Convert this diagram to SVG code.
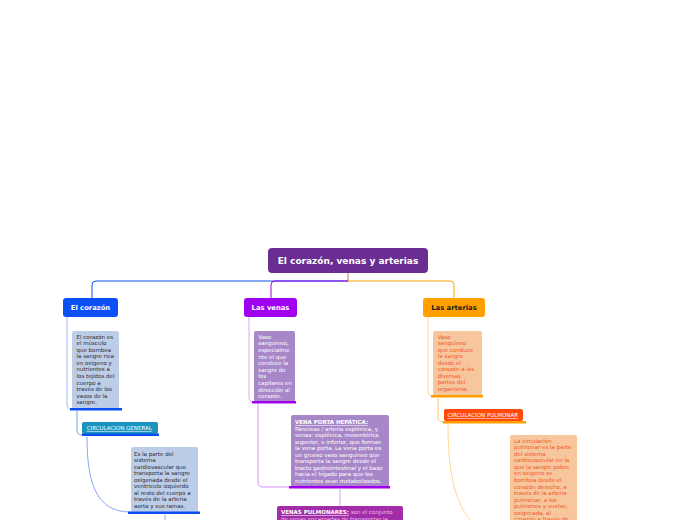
<svg xmlns="http://www.w3.org/2000/svg" width="696" height="520" viewBox="0 0 696 520">
<style>
text{font-family:"DejaVu Sans",Verdana,sans-serif}
.hd{font-size:6.8px;font-weight:bold;text-anchor:middle}
.sm{font-size:5.5px}
.w{fill:#ffffff}
.dk{fill:#2b2b35}
.or{fill:#f0582a}
.pk{fill:#f3bde8}
.u{text-decoration:underline}
.c{fill:none;stroke-width:1}
</style>
<rect width="696" height="520" fill="#ffffff"/>
<g id="connectors">
<path class="c" d="M348,273 V281" stroke="#d4705e"/>
<path class="c" d="M348,281 H96 Q92,281 92,285 V298" stroke="#0b50f5"/>
<path class="c" d="M348,281 H275 Q271,281 271,285 V298" stroke="#a100f0"/>
<path class="c" d="M348,281 H450 Q454,281 454,285 V298" stroke="#ffa000"/>
<path class="c" d="M67,317 V404 Q67,409 72,409" stroke="#a8b6f2"/>
<path class="c" d="M77,411 V430 Q77,435 82,435" stroke="#7e9af2"/>
<path class="c" d="M87,437 C87,480 95,512 130,512" stroke="#8aa6f5"/>
<path class="c" d="M165,515 V520" stroke="#8aa6f5"/>
<path class="c" d="M249,317 V397 Q249,402 254,402" stroke="#d9a8f5"/>
<path class="c" d="M258,403 V482 Q258,487 263,487 H290" stroke="#d494f8"/>
<path class="c" d="M340,489 V506" stroke="#d9a0f0"/>
<path class="c" d="M428,317 V391 Q428,396 433,396" stroke="#ffd394"/>
<path class="c" d="M438,398 V417 Q438,422 443,422" stroke="#ffc56a"/>
<path class="c" d="M448,424 C448,500 465,532 510,542" stroke="#ffd394"/>
</g>
<g id="root">
<rect x="268" y="248" width="160" height="25" rx="4" fill="#6a2d91"/>
<text x="348" y="264" font-size="9px" font-weight="bold" text-anchor="middle" class="w">El corazón, venas y arterias</text>
</g>
<g id="corazon">
<rect x="63" y="298" width="55" height="19" rx="3" fill="#0b50f5"/>
<text x="90.5" y="310" class="hd w">El corazón</text>
</g>
<g id="venas">
<rect x="244" y="298" width="53" height="19" rx="3" fill="#9f00f0"/>
<text x="270.5" y="310" class="hd w">Las venas</text>
</g>
<g id="arterias">
<rect x="423" y="298" width="62" height="19" rx="3" fill="#ffa000"/>
<text x="454" y="310" class="hd" fill="#1a1a1a">Las arterias</text>
</g>
<g id="corazon-def">
<rect x="72" y="331" width="47" height="78" rx="2" fill="#bccde8"/>
<rect x="70" y="408" width="52" height="2.5" fill="#0b50f5"/>
<text class="sm dk" x="76.5" y="338.7">
<tspan x="76.5">El corazón es</tspan><tspan x="76.5" dy="6.55">el músculo</tspan><tspan x="76.5" dy="6.55">que bombea</tspan><tspan x="76.5" dy="6.55">la sangre rica</tspan><tspan x="76.5" dy="6.55">en oxígeno y</tspan><tspan x="76.5" dy="6.55">nutrientes a</tspan><tspan x="76.5" dy="6.55">los tejidos del</tspan><tspan x="76.5" dy="6.55">cuerpo a</tspan><tspan x="76.5" dy="6.55">través de los</tspan><tspan x="76.5" dy="6.55">vasos de la</tspan><tspan x="76.5" dy="6.55">sangre.</tspan>
</text>
</g>
<g id="circ-general">
<rect x="82" y="422" width="76" height="12" rx="2" fill="#1a93bd"/>
<rect x="82" y="433.5" width="77" height="2.5" fill="#0b50f5"/>
<text class="sm w u" x="86.7" y="430">CIRCULACIÓN GENERAL</text>
</g>
<g id="general-def">
<rect x="131" y="447" width="67" height="66" rx="2" fill="#bccde8"/>
<rect x="128" y="511.5" width="72" height="2.5" fill="#0b50f5"/>
<text class="sm dk" x="134" y="456">
<tspan x="134">Es la parte del</tspan><tspan x="134" dy="6.46">sistema</tspan><tspan x="134" dy="6.46">cardiovascular que</tspan><tspan x="134" dy="6.46">transporta la sangre</tspan><tspan x="134" dy="6.46">oxigenada desde el</tspan><tspan x="134" dy="6.46">ventrículo izquierdo</tspan><tspan x="134" dy="6.46">al resto del cuerpo a</tspan><tspan x="134" dy="6.46">través de la arteria</tspan><tspan x="134" dy="6.46">aorta y sus ramas.</tspan>
</text>
</g>
<g id="venas-def">
<rect x="254" y="331" width="41" height="71" rx="2" fill="#a887c8"/>
<rect x="252" y="401" width="44" height="2.5" fill="#a100f0"/>
<text class="sm w" x="258.3" y="338.7">
<tspan x="258.3">Vaso</tspan><tspan x="258.3" dy="6.6">sanguíneo,</tspan><tspan x="258.3" dy="6.6">especialme</tspan><tspan x="258.3" dy="6.6">nte el que</tspan><tspan x="258.3" dy="6.6">conduce la</tspan><tspan x="258.3" dy="6.6">sangre de</tspan><tspan x="258.3" dy="6.6">los</tspan><tspan x="258.3" dy="6.6">capilares en</tspan><tspan x="258.3" dy="6.6">dirección al</tspan><tspan x="258.3" dy="6.6">corazón.</tspan>
</text>
</g>
<g id="vena-porta">
<rect x="291" y="415" width="98" height="72" rx="2" fill="#a887c8"/>
<rect x="289" y="486" width="101" height="2.5" fill="#a100f0"/>
<text class="sm w" x="295" y="424">
<tspan x="295" font-weight="bold" class="u">VENA PORTA HEPÁTICA:</tspan><tspan x="295" dy="6.5">Páncreas / arteria esplénica, y</tspan><tspan x="295" dy="6.5">venas: esplénica, mesentérica</tspan><tspan x="295" dy="6.5">superior, e inferior, que forman</tspan><tspan x="295" dy="6.5">la vena porta. La vena porta es</tspan><tspan x="295" dy="6.5">un grueso vaso sanguíneo que</tspan><tspan x="295" dy="6.5">transporta la sangre desde el</tspan><tspan x="295" dy="6.5">tracto gastrointestinal y el bazo</tspan><tspan x="295" dy="6.5">hacia el hígado para que los</tspan><tspan x="295" dy="6.5">nutrientes sean metabolizados.</tspan>
</text>
</g>
<g id="venas-pulmonares">
<rect x="277" y="506" width="126" height="20" rx="2" fill="#a22da9"/>
<text class="sm" x="281" y="514.3"><tspan class="w u" font-weight="bold">VENAS PULMONARES:</tspan><tspan class="pk"> son el conjunto</tspan></text>
<text class="sm pk" x="281" y="520.6">de venas encargadas de transportar la</text>
</g>
<g id="arterias-def">
<rect x="433" y="331" width="49" height="65" rx="2" fill="#f7c69c"/>
<rect x="431" y="395" width="52" height="2.5" fill="#ffa000"/>
<text class="sm or" x="437.7" y="338.7">
<tspan x="437.7">Vaso</tspan><tspan x="437.7" dy="6.54">sanguíneo</tspan><tspan x="437.7" dy="6.54">que conduce</tspan><tspan x="437.7" dy="6.54">la sangre</tspan><tspan x="437.7" dy="6.54">desde el</tspan><tspan x="437.7" dy="6.54">corazón a las</tspan><tspan x="437.7" dy="6.54">diversas</tspan><tspan x="437.7" dy="6.54">partes del</tspan><tspan x="437.7" dy="6.54">organismo.</tspan>
</text>
</g>
<g id="circ-pulmonar">
<rect x="444" y="409" width="79" height="12" rx="2" fill="#ff4a0a"/>
<rect x="443" y="421" width="83" height="2.5" fill="#ffa000"/>
<text class="sm w u" x="447.5" y="417">CIRCULACIÓN PULMONAR</text>
</g>
<g id="pulmonar-def">
<rect x="510" y="435" width="67" height="95" rx="2" fill="#f7c69c"/>
<text class="sm or" x="514" y="442.7">
<tspan x="514">La circulación</tspan><tspan x="514" dy="6.55">pulmonar es la parte</tspan><tspan x="514" dy="6.55">del sistema</tspan><tspan x="514" dy="6.55">cardiovascular en la</tspan><tspan x="514" dy="6.55">que la sangre pobre</tspan><tspan x="514" dy="6.55">en oxígeno se</tspan><tspan x="514" dy="6.55">bombea desde el</tspan><tspan x="514" dy="6.55">corazón derecho, a</tspan><tspan x="514" dy="6.55">través de la arteria</tspan><tspan x="514" dy="6.55">pulmonar, a los</tspan><tspan x="514" dy="6.55">pulmones y vuelve,</tspan><tspan x="514" dy="6.55">oxigenada, al</tspan><tspan x="514" dy="6.55">corazón a través de</tspan>
</text>
</g>
</svg>
